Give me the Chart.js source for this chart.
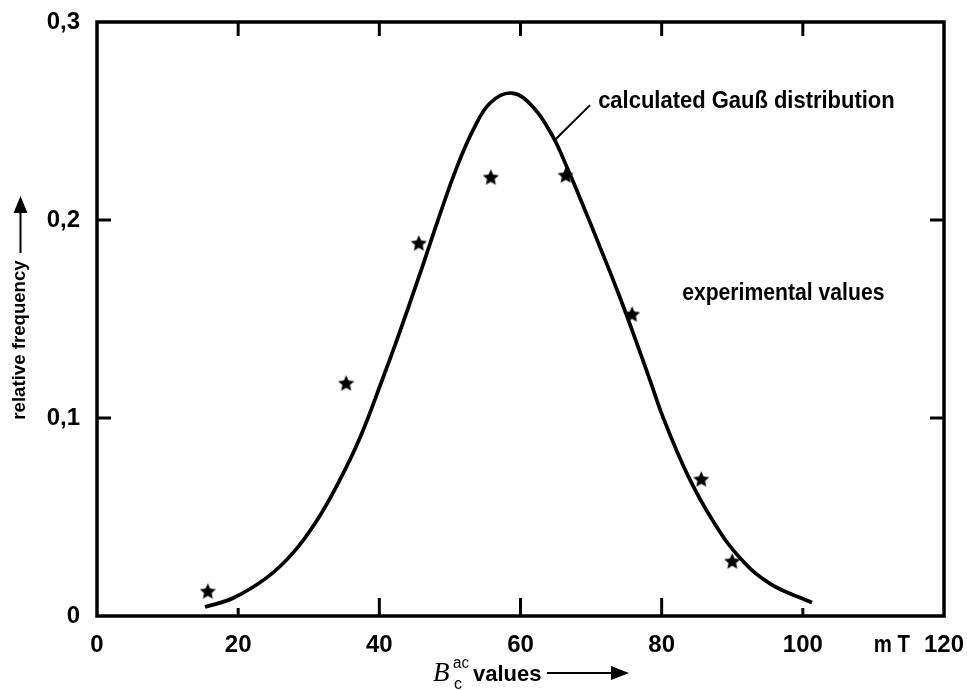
<!DOCTYPE html>
<html><head><meta charset="utf-8">
<script src="https://cdn.jsdelivr.net/npm/chart.js@4.4.1/dist/chart.umd.min.js"></script>
<style>html,body{margin:0;padding:0;background:#fff;}canvas{display:block;}</style>
</head><body>
<canvas id="c" width="967" height="690"></canvas>
<script>
// ---- data ----
const curveX = [15.3, 19.3, 24.1, 27.8, 31.2, 34.4, 37.3, 40.4, 42.9, 46.2, 48.6, 51.0, 53.3, 55.7, 58.8, 61.8, 64.6, 66.6, 68.9, 71.3, 73.7, 75.9, 78.4, 80.2, 83.6, 87.3, 91.1, 95.4, 101.3];
const curveY = [0.0045, 0.0091, 0.0195, 0.0320, 0.0485, 0.0687, 0.0904, 0.1192, 0.1435, 0.1775, 0.2030, 0.2268, 0.2455, 0.2591, 0.2641, 0.2570, 0.2420, 0.2265, 0.2070, 0.1860, 0.1645, 0.1435, 0.1185, 0.1003, 0.0718, 0.0478, 0.0293, 0.0162, 0.0068];
const expX = [15.7, 35.3, 45.6, 55.8, 66.4, 75.8, 85.6, 90.0];
const expY = [0.0126, 0.1177, 0.1884, 0.2217, 0.2227, 0.1525, 0.0692, 0.0278];
const xTicks = [0, 20, 40, 60, 80, 100, 120];
const xTickLabels = ['0', '20', '40', '60', '80', '100', '120'];
const yTicks = [0, 0.1, 0.2, 0.3];
const yTickLabels = ['0', '0,1', '0,2', '0,3'];
const curveLabel = 'calculated Gauß distribution';
const expLabel = 'experimental values';
const yTitle = 'relative frequency';
const xTitleWord = 'values';
const xUnit = 'm T';

const FONT = "'Liberation Sans', Arial, sans-serif";

function starCanvas(r) {
  const c = document.createElement('canvas');
  const s = Math.ceil(r * 2 + 2);
  c.width = c.height = s;
  const g = c.getContext('2d');
  g.translate(s / 2, s / 2 + 0.8);
  g.fillStyle = '#000';
  g.beginPath();
  for (let i = 0; i < 10; i++) {
    const rad = i % 2 ? r * 0.47 : r;
    const ang = -Math.PI / 2 + i * Math.PI / 5;
    g.lineTo(rad * Math.cos(ang), rad * Math.sin(ang));
  }
  g.closePath();
  g.fill();
  return c;
}
const star = starCanvas(8.5);

function txt(ctx, s, x, y, font, sx) {
  ctx.save();
  ctx.font = font;
  ctx.translate(x, y);
  ctx.scale(sx, 1);
  ctx.fillText(s, 0, 0);
  ctx.restore();
}

const decor = {
  id: 'decor',
  beforeDatasetsDraw(chart) {
    const { ctx, chartArea: a, scales: { x, y } } = chart;
    ctx.save();
    ctx.strokeStyle = '#000';
    ctx.lineWidth = 3.5;
    ctx.strokeRect(a.left, a.top, a.right - a.left, a.bottom - a.top);
    ctx.lineWidth = 3;
    const ln = (x1, y1, x2, y2) => { ctx.beginPath(); ctx.moveTo(x1, y1); ctx.lineTo(x2, y2); ctx.stroke(); };
    xTicks.forEach((v, i) => {
      if (i === 0 || i === xTicks.length - 1) return;
      const px = x.getPixelForValue(v);
      const L = (i === 1 || i === xTicks.length - 2) ? 8 : 18;
      ln(px, a.bottom, px, a.bottom - L);
      ln(px, a.top, px, a.top + 14);
    });
    yTicks.forEach((v, i) => {
      if (i === 0 || i === yTicks.length - 1) return;
      const py = y.getPixelForValue(v);
      ln(a.left, py, a.left + 14, py);
      ln(a.right, py, a.right - 14, py);
    });
    ctx.restore();
  },
  afterDraw(chart) {
    const { ctx, chartArea: a, scales: { x, y } } = chart;
    ctx.save();
    ctx.fillStyle = '#000';
    ctx.strokeStyle = '#000';
    // curve annotation + leader line
    ctx.lineWidth = 2;
    ctx.beginPath();
    ctx.moveTo(x.getPixelForValue(64.9), y.getPixelForValue(0.2405));
    ctx.lineTo(x.getPixelForValue(69.85), y.getPixelForValue(0.258));
    ctx.stroke();
    ctx.textAlign = 'left';
    ctx.textBaseline = 'alphabetic';
    txt(ctx, curveLabel, x.getPixelForValue(71.0), y.getPixelForValue(0.2566), `bold 23px ${FONT}`, 0.955);
    txt(ctx, expLabel, x.getPixelForValue(82.9), y.getPixelForValue(0.1596), `bold 23px ${FONT}`, 0.92);
    // unit label on x axis
    ctx.textAlign = 'center';
    ctx.textBaseline = 'middle';
    txt(ctx, xUnit, x.getPixelForValue(112.6), a.bottom + 15 + 14.4, `bold 24px ${FONT}`, 0.85);
    // y title
    ctx.save();
    ctx.translate(20, 340);
    ctx.rotate(-Math.PI / 2);
    ctx.textAlign = 'center';
    ctx.textBaseline = 'middle';
    txt(ctx, yTitle, 0, 0, `bold 19px ${FONT}`, 0.98);
    ctx.restore();
    ctx.lineWidth = 2;
    ctx.beginPath(); ctx.moveTo(20.5, 253); ctx.lineTo(20.5, 210); ctx.stroke();
    ctx.beginPath(); ctx.moveTo(20.5, 196); ctx.lineTo(13.5, 213); ctx.lineTo(27.5, 213); ctx.closePath(); ctx.fill();
    // x title: B_c^ac values -->
    ctx.textAlign = 'left';
    ctx.textBaseline = 'alphabetic';
    txt(ctx, 'B', 433, 681, "italic 27px 'Liberation Serif', serif", 1);
    txt(ctx, 'c', 454, 689, "16px 'Liberation Sans', sans-serif", 1);
    txt(ctx, 'ac', 453, 668, "16px 'Liberation Sans', sans-serif", 0.95);
    txt(ctx, xTitleWord, 473, 681, `bold 22px ${FONT}`, 1);
    ctx.lineWidth = 2;
    ctx.beginPath(); ctx.moveTo(547, 673); ctx.lineTo(612, 673); ctx.stroke();
    ctx.beginPath(); ctx.moveTo(629, 673); ctx.lineTo(611, 666); ctx.lineTo(611, 680); ctx.closePath(); ctx.fill();
    ctx.restore();
  }
};

function zeroPad(s) { s.paddingTop = 0; s.paddingBottom = 0; s.paddingLeft = 0; s.paddingRight = 0; }

new Chart(document.getElementById('c'), {
  type: 'scatter',
  data: {
    datasets: [
      {
        label: curveLabel,
        data: curveX.map((v, i) => ({ x: v, y: curveY[i] })),
        showLine: true,
        borderColor: '#000',
        borderWidth: 3.7,
        pointRadius: 0,
        tension: 0.4,
        fill: false
      },
      {
        label: expLabel,
        data: expX.map((v, i) => ({ x: v, y: expY[i] })),
        pointStyle: star,
        pointRadius: 9,
        pointBackgroundColor: '#000',
        pointBorderColor: '#000',
        showLine: false
      }
    ]
  },
  options: {
    responsive: false,
    devicePixelRatio: 1,
    animation: false,
    layout: { padding: { top: 22, right: 23, left: 0, bottom: 0 } },
    plugins: { legend: { display: false }, tooltip: { enabled: false } },
    scales: {
      x: {
        type: 'linear', min: 0, max: 120,
        afterBuildTicks: s => { s.ticks = xTicks.map(v => ({ value: v })); },
        afterFit: s => { s.height = 74; zeroPad(s); },
        ticks: {
          autoSkip: false, maxRotation: 0, padding: 15, color: '#000',
          font: { family: FONT, size: 24, weight: 'bold' },
          callback: (v) => { const i = xTicks.indexOf(v); return i >= 0 ? xTickLabels[i] : ''; }
        },
        grid: { display: false, drawTicks: false },
        border: { display: false }
      },
      y: {
        type: 'linear', min: 0, max: 0.3,
        afterBuildTicks: s => { s.ticks = yTicks.map(v => ({ value: v })); },
        afterFit: s => { s.width = 97; zeroPad(s); },
        ticks: {
          autoSkip: false, padding: 17, color: '#000',
          font: { family: FONT, size: 24, weight: 'bold' },
          callback: (v) => { const i = yTicks.findIndex(t => Math.abs(t - v) < 1e-9); return i >= 0 ? yTickLabels[i] : ''; }
        },
        grid: { display: false, drawTicks: false },
        border: { display: false }
      }
    }
  },
  plugins: [decor]
});
</script>
</body></html>
